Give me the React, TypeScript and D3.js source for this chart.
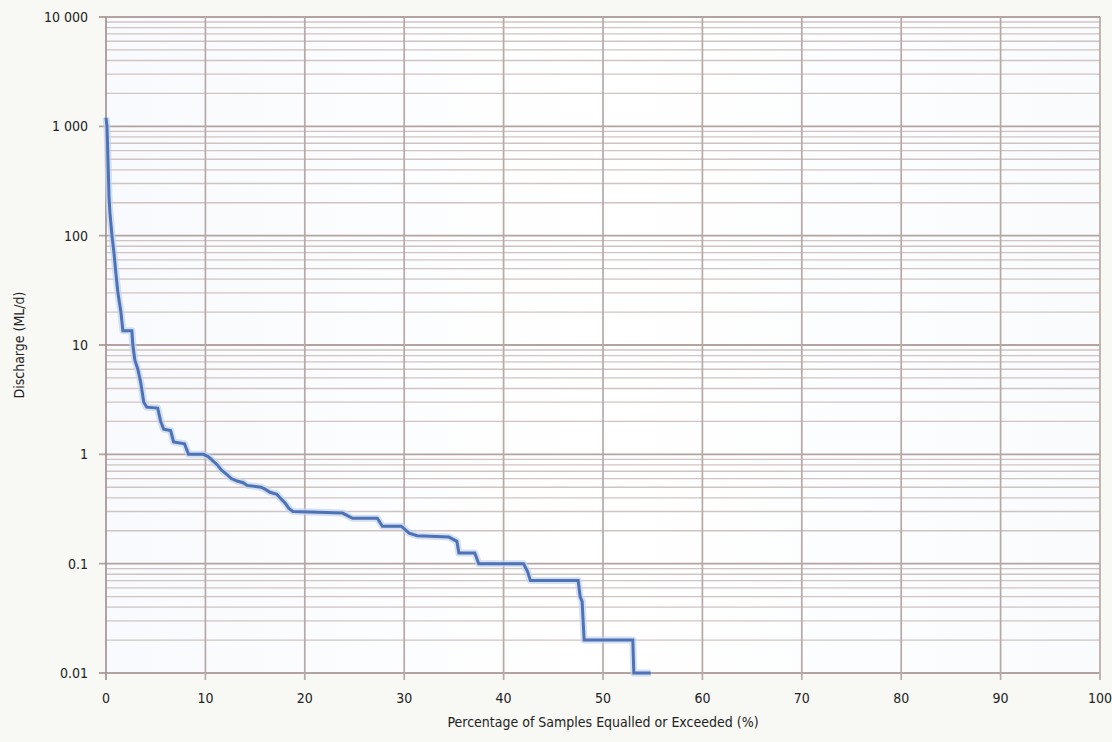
import React from 'react';
import * as d3 from 'd3';

// flow duration curve
const pct = [
  0, 0.1, 0.2, 0.3, 0.4, 0.6, 0.8, 1.0, 1.2, 1.5, 1.7, 2.6, 2.7, 2.9, 3.2, 3.5, 3.8, 4.1, 5.2, 5.5,
  5.8, 6.5, 6.8, 7.9, 8.3, 9.8, 10.3, 10.6, 11.2, 11.6, 12.2, 12.6, 13.2, 13.8, 14.2, 15.6, 16.0,
  16.5, 17.2, 17.5, 18.0, 18.4, 18.8, 23.8, 24.8, 27.3, 27.8, 29.7, 30.5, 31.3, 34.5, 35.3, 35.5,
  37.1, 37.5, 42.0, 42.4, 42.7, 47.5, 47.7, 47.9, 48.1, 53.0, 53.1, 54.8,
];
const discharge = [
  1200, 1000, 500, 230, 160, 100, 70, 45, 30, 20, 13.5, 13.5, 10, 7.3, 6, 4.5, 3.0, 2.7, 2.65, 2.0,
  1.7, 1.65, 1.3, 1.25, 1.0, 1.0, 0.95, 0.9, 0.8, 0.72, 0.65, 0.6, 0.57, 0.55, 0.52, 0.5, 0.48,
  0.45, 0.43, 0.4, 0.36, 0.32, 0.3, 0.29, 0.26, 0.26, 0.22, 0.22, 0.19, 0.18, 0.175, 0.16, 0.125,
  0.125, 0.1, 0.1, 0.085, 0.07, 0.07, 0.05, 0.045, 0.02, 0.02, 0.01, 0.01,
];

const xTicks = [0, 10, 20, 30, 40, 50, 60, 70, 80, 90, 100];
const yTicks = [0.01, 0.1, 1, 10, 100, 1000, 10000];
const yTickLabels = ['0.01', '0.1', '1', '10', '100', '1 000', '10 000'];

const W = 1112;
const H = 742;
const M = { left: 106, right: 12, top: 17, bottom: 69 };
const FONT = '"Liberation Sans Narrow", "DejaVu Sans Condensed", sans-serif';

export default function App() {
  const x = d3.scaleLinear().domain([0, 100]).range([M.left, W - M.right]);
  const y = d3.scaleLog().domain([0.01, 10000]).range([H - M.bottom, M.top]);

  const minor = y.ticks();
  const pts: [number, number][] = pct.map((p, i) => [p, discharge[i]]);
  const line = d3
    .line<[number, number]>()
    .x((d) => x(d[0]))
    .y((d) => y(d[1]));
  const path = line(pts) || '';

  const x0 = x(0);
  const x1 = x(100);
  const yTop = y(10000);
  const yBot = y(0.01);

  return (
    <div style={{ position: 'fixed', left: 0, top: 0, width: W, height: H, background: '#f8f8f4' }}>
      <svg width={W} height={H} style={{ display: 'block' }}>
        <defs>
          <linearGradient id="plotbg" x1="0" y1="0" x2="1" y2="0">
            <stop offset="0" stopColor="#f8fafd" />
            <stop offset="0.5" stopColor="#ffffff" />
            <stop offset="1" stopColor="#f9fbfd" />
          </linearGradient>
        </defs>
        <rect x={x0} y={yTop} width={x1 - x0} height={yBot - yTop} fill="url(#plotbg)" />

        {/* horizontal grid: every 1..9 per decade */}
        {minor.map((v, i) => {
          const major = Math.abs(Math.log10(v) - Math.round(Math.log10(v))) < 1e-9;
          return (
            <line
              key={'h' + i}
              x1={major ? x0 - 7 : x0}
              x2={x1}
              y1={y(v)}
              y2={y(v)}
              stroke={major ? '#b3a3a1' : '#d0c4c2'}
              strokeWidth={major ? 1.8 : 1.3}
            />
          );
        })}

        {/* vertical grid */}
        {xTicks.map((t) => (
          <line
            key={'v' + t}
            x1={x(t)}
            x2={x(t)}
            y1={yTop}
            y2={yBot + 7}
            stroke={t === 0 ? '#a39393' : '#b8a9a8'}
            strokeWidth={1.7}
          />
        ))}

        {/* data line with a soft halo */}
        <path d={path} fill="none" stroke="#c3d3ec" strokeWidth={7} strokeLinejoin="round" opacity={0.7} />
        <path d={path} fill="none" stroke="#4e72b6" strokeWidth={3} strokeLinejoin="miter" />

        {/* y tick labels */}
        {yTicks.map((t, i) => (
          <text
            key={'yl' + t}
            x={x0 - 18}
            y={y(t)}
            dy="0.35em"
            textAnchor="end"
            fontFamily={FONT}
            fontSize={14}
            fill="#222"
          >
            {yTickLabels[i]}
          </text>
        ))}

        {/* x tick labels */}
        {xTicks.map((t) => (
          <text
            key={'xl' + t}
            x={x(t)}
            y={yBot + 30}
            textAnchor="middle"
            fontFamily={FONT}
            fontSize={14}
            fill="#222"
          >
            {t}
          </text>
        ))}

        <text
          x={(x0 + x1) / 2}
          y={H - 15}
          textAnchor="middle"
          fontFamily={FONT}
          fontSize={14}
          fill="#222"
        >
          Percentage of Samples Equalled or Exceeded (%)
        </text>
        <text
          transform={`translate(24, ${(yTop + yBot) / 2}) rotate(-90)`}
          textAnchor="middle"
          fontFamily={FONT}
          fontSize={14}
          fill="#222"
        >
          Discharge (ML/d)
        </text>
      </svg>
    </div>
  );
}
